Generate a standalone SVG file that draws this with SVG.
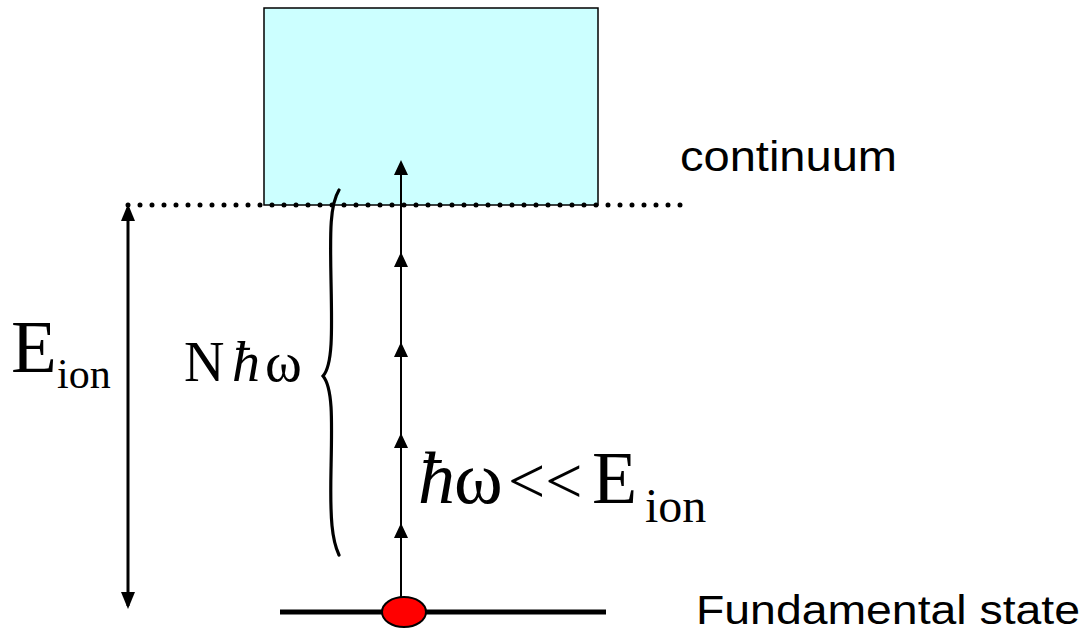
<svg xmlns="http://www.w3.org/2000/svg" width="1090" height="632" viewBox="0 0 1090 632">
<defs>
<style>
.sans{font-family:"Liberation Sans",Arial,sans-serif;fill:#000}
.serif{font-family:"Liberation Serif","Times New Roman",serif;fill:#000}
.ah{fill:#000}
</style>
</defs>
<rect width="1090" height="632" fill="#fff"/>
<g id="continuum-box">
<rect x="264" y="8" width="334" height="197" fill="#ccffff" stroke="#000" stroke-width="1.5"/>
</g>
<g id="ionization-level">
<line x1="128" y1="205" x2="682" y2="205" stroke="#000" stroke-width="5" stroke-linecap="round" stroke-dasharray="0 12"/>
</g>
<g id="fundamental-state">
<line x1="280" y1="612" x2="606" y2="612" stroke="#000" stroke-width="5"/>
<ellipse cx="404" cy="612" rx="22" ry="15" fill="#ff0000" stroke="#000" stroke-width="2"/>
</g>
<g id="connectors">
<line x1="128" y1="208" x2="128" y2="606" stroke="#000" stroke-width="3"/>
<path class="ah" d="M128,204 L121,221 L135,221 Z"/>
<path class="ah" d="M128,609 L121,592 L135,592 Z"/>
<line x1="401" y1="597" x2="401" y2="166" stroke="#000" stroke-width="2"/>
<path class="ah" d="M401,160 L394,175 L408,175 Z"/>
<path class="ah" d="M401,252 L394,267 L408,267 Z"/>
<path class="ah" d="M401,342 L394,357 L408,357 Z"/>
<path class="ah" d="M401,433 L394,448 L408,448 Z"/>
<path class="ah" d="M401,523 L394,538 L408,538 Z"/>
<path d="M339,190 C330,205 330,230 331,280 C332,330 333,365 323,376 C333,388 332,420 331,470 C330,520 332,540 339,555" fill="none" stroke="#000" stroke-width="3.2" stroke-linecap="round"/>
</g>
<g id="labels">
<text class="sans" x="680" y="171" font-size="42" textLength="217" lengthAdjust="spacingAndGlyphs">continuum</text>
<text class="sans" x="696" y="624" font-size="40" textLength="384" lengthAdjust="spacingAndGlyphs">Fundamental state</text>
<text class="serif" x="11" y="372" font-size="75">E</text>
<text class="serif" x="57" y="388" font-size="42">ion</text>
<text class="serif" y="381" font-size="56"><tspan x="184">N</tspan><tspan x="232" font-style="italic">ħ</tspan><tspan x="265">ω</tspan></text>
<text class="serif" y="503" font-size="74"><tspan x="418" font-style="italic">ħ</tspan><tspan x="454">ω</tspan><tspan x="508" font-size="66">&lt;&lt;</tspan><tspan x="592">E</tspan></text>
<text class="serif" x="645" y="522" font-size="48">ion</text>
</g>
</svg>
